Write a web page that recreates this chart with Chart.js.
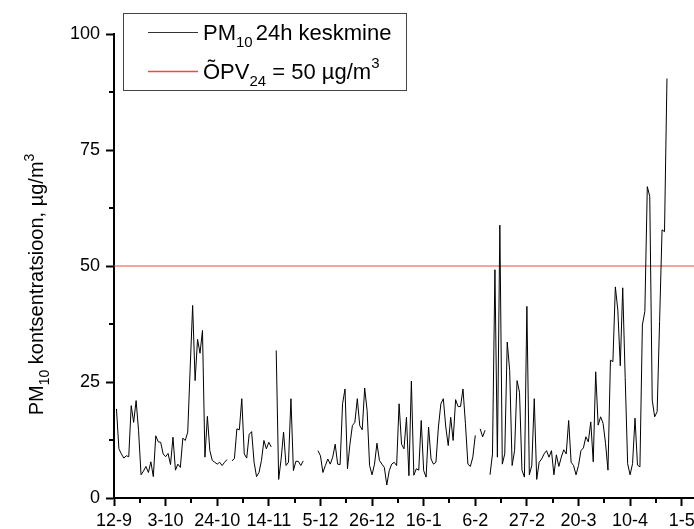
<!DOCTYPE html>
<html><head><meta charset="utf-8">
<script src="https://cdn.jsdelivr.net/npm/chart.js@4"></script>
<style>html,body{margin:0;padding:0;background:#fff;}canvas{display:block;}</style>
</head><body>
<canvas id="c" width="694" height="529"></canvas>
<script>
// x tick labels (every 21 days starting 12-9)
const tickLabels = ['12-9','3-10','24-10','14-11','5-12','26-12','16-1','6-2','27-2','20-3','10-4','1-5'];
// daily PM10 24h means, index 0 = 12-9 (null = no data)
const pm10 = [
 null,19.2,10.6,9.5,8.6,9.1,8.9,19.9,16.3,21.0,
 14.5,5.0,5.8,6.8,5.5,7.8,4.6,13.4,12.1,12.0,
 9.5,8.9,9.6,7.2,13.1,6.0,7.3,6.6,12.9,12.4,
 14.2,28.0,41.5,25.3,34.2,31.2,36.1,8.8,17.6,10.2,
 8.1,7.7,7.3,7.7,7.0,7.7,8.3,null,8.0,8.5,
 14.9,14.7,21.4,9.5,8.6,13.7,14.3,7.7,4.6,5.5,
 8.1,12.4,10.6,12.0,11.0,null,31.8,4.0,8.4,14.2,
 7.0,7.7,21.4,5.9,7.9,7.9,7.0,8.0,null,null,
 null,null,null,10.2,9.1,5.5,7.0,8.4,7.3,8.8,
 11.6,7.3,7.2,20.3,23.5,6.3,11.6,15.6,16.3,21.4,
 15.6,14.7,23.7,18.8,7.0,5.0,7.3,11.8,8.1,7.3,
 6.6,2.8,5.9,7.3,7.7,7.0,20.3,11.6,10.6,17.4,
 4.8,25.2,4.9,6.3,6.0,16.7,5.9,4.5,15.3,8.4,
 7.3,7.7,15.3,20.3,21.4,15.3,11.3,17.4,12.4,21.2,
 19.7,19.7,23.5,16.0,7.3,6.8,8.8,13.5,null,14.9,
 13.2,14.6,null,5.0,9.5,49.2,8.8,58.8,7.3,9.5,
 33.6,27.5,7.0,10.2,25.3,22.8,6.0,4.5,41.3,5.0,
 7.0,21.4,4.0,7.7,8.4,9.5,10.2,8.8,10.2,5.0,
 9.3,6.8,8.8,10.4,9.5,16.7,7.7,7.0,5.0,7.0,
 10.2,10.8,13.2,12.1,16.4,7.8,27.2,15.7,17.5,16.1,
 11.8,6.0,29.7,29.4,45.5,40.5,28.5,45.3,26.0,7.4,
 5.0,7.4,17.2,7.1,6.7,37.3,40.2,67.1,65.0,21.1,
 17.5,18.6,38.0,57.8,57.4,90.4
];
const limitValue = 50;
const yTicks = [0,25,50,75,100];
const tickStep = 21;
const xMax = 236;

const FONT = '"Liberation Sans", Arial, Helvetica, sans-serif';
const LIMIT_COLOR = '#f04848';
const seriesPoints = pm10.map((v,i)=>({x:i,y:v}));
const limitPoints = [{x:0,y:limitValue},{x:xMax,y:limitValue}];

function drawRuns(c, runs, x, y){
  let cx = x;
  for (const r of runs){
    c.font = r.s + 'px ' + FONT;
    cx += (r.g||0);
    c.fillText(r.t, cx, y + (r.dy||0));
    cx += c.measureText(r.t).width;
  }
  return cx;
}
function runsWidth(c, runs){
  let w = 0;
  for (const r of runs){ c.font = r.s + 'px ' + FONT; w += (r.g||0) + c.measureText(r.t).width; }
  return w;
}

const extras = {
  id:'extras',
  afterDraw(chart){
    const c = chart.ctx, xs = chart.scales.x, ys = chart.scales.y;
    c.save();
    // minor ticks
    c.strokeStyle = '#000'; c.lineWidth = 2;
    for (let v = tickStep/2; v < xMax; v += tickStep){
      const px = Math.round(xs.getPixelForValue(v));
      c.beginPath(); c.moveTo(px, ys.bottom); c.lineTo(px, ys.bottom + 5); c.stroke();
    }
    for (let v = 12.5; v < 100; v += 25){
      const py = Math.round(ys.getPixelForValue(v));
      c.beginPath(); c.moveTo(xs.left, py); c.lineTo(xs.left - 5, py); c.stroke();
    }
    // legend
    c.lineWidth = 1; c.strokeStyle = '#444';
    c.strokeRect(123.5, 13.5, 283, 77);
    c.strokeStyle = '#333'; c.beginPath(); c.moveTo(148, 32.5); c.lineTo(198, 32.5); c.stroke();
    c.lineWidth = 1.5;
    c.strokeStyle = LIMIT_COLOR; c.beginPath(); c.moveTo(148, 71.5); c.lineTo(198, 71.5); c.stroke();
    c.fillStyle = '#000'; c.textBaseline = 'alphabetic'; c.textAlign = 'left';
    drawRuns(c, [{t:'PM',s:22},{t:'10',s:15,dy:7},{t:'24h keskmine',s:22,g:3}], 203, 40);
    drawRuns(c, [{t:'ÕPV',s:22},{t:'24',s:15,dy:7},{t:' = 50 µg/m',s:22},{t:'3',s:15,dy:-11}], 203, 79);
    // y axis title
    const tr = [{t:'PM',s:20},{t:'10',s:14,dy:6},{t:' kontsentratsioon, µg/m',s:20},{t:'3',s:14,dy:-9}];
    const w = runsWidth(c, tr);
    c.translate(43, 284.5); c.rotate(-Math.PI/2);
    drawRuns(c, tr, -w/2, 0);
    c.restore();
  }
};

new Chart(document.getElementById('c').getContext('2d'), {
  type:'line',
  data:{datasets:[
    {label:'PM10 24h keskmine', data:seriesPoints, borderColor:'#000', borderWidth:1, pointRadius:0, spanGaps:false, tension:0},
    {label:'ÕPV24 = 50 µg/m3', data:limitPoints, borderColor:LIMIT_COLOR, borderWidth:1, pointRadius:0, tension:0}
  ]},
  options:{
    responsive:false, animation:false, devicePixelRatio:1,
    layout:{padding:{top:34,left:0,right:0,bottom:0}},
    plugins:{legend:{display:false}, tooltip:{enabled:false}},
    scales:{
      x:{type:'linear', min:0, max:xMax,
        afterBuildTicks(s){ s.ticks = tickLabels.map((_,i)=>({value:i*tickStep})); },
        afterFit(s){ s.height = 31; s.paddingLeft = 0; s.paddingRight = 0; },
        ticks:{autoSkip:false, maxRotation:0, padding:4, color:'#000', font:{family:FONT,size:18},
          callback:(v)=>tickLabels[Math.round(v/tickStep)]},
        grid:{drawOnChartArea:false, drawTicks:true, tickLength:8, tickWidth:2, tickColor:'#000'},
        border:{display:true, color:'#000', width:2}
      },
      y:{type:'linear', min:0, max:100,
        afterBuildTicks(s){ s.ticks = yTicks.map(v=>({value:v})); },
        afterFit(s){ s.width = 114; s.paddingTop = 0; s.paddingBottom = 0; },
        ticks:{padding:6, color:'#000', font:{family:FONT,size:18}},
        grid:{drawOnChartArea:false, drawTicks:true, tickLength:8, tickWidth:2, tickColor:'#000'},
        border:{display:true, color:'#000', width:2}
      }
    }
  },
  plugins:[extras]
});
</script>
</body></html>
